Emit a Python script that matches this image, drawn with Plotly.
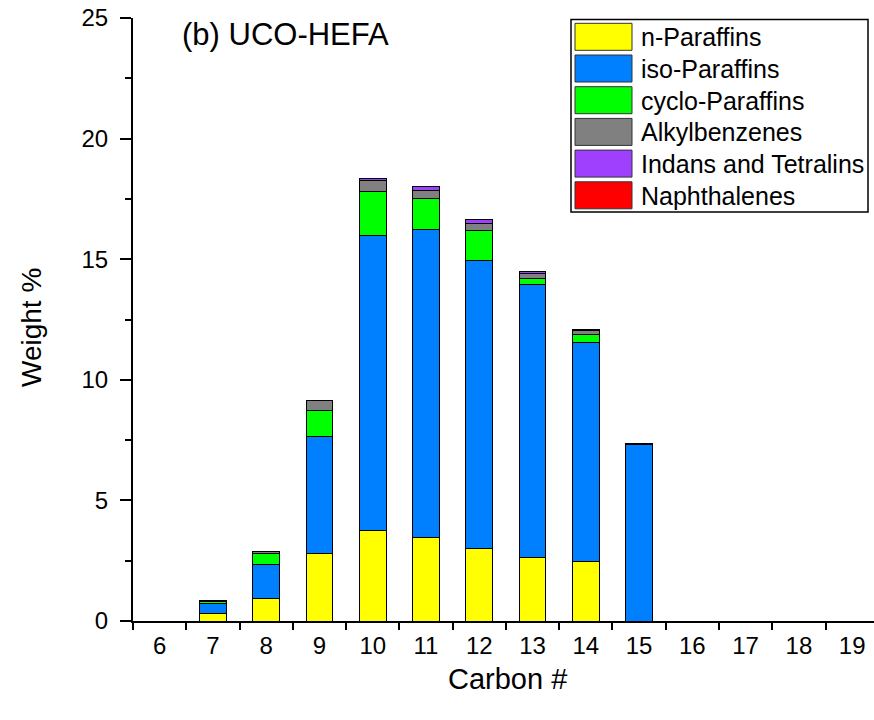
import plotly.graph_objects as go

# Carbon-number distribution of hydrocarbon classes (weight %)
carbon = [6, 7, 8, 9, 10, 11, 12, 13, 14, 15, 16, 17, 18, 19]
n_paraffins = [0.00, 0.30, 0.94, 2.81, 3.76, 3.47, 3.00, 2.62, 2.47, 0.00, 0.00, 0.00, 0.00, 0.00]
iso_paraffins = [0.00, 0.43, 1.41, 4.83, 12.23, 12.76, 11.93, 11.34, 9.08, 7.30, 0.00, 0.00, 0.00, 0.00]
cyclo_paraffins = [0.00, 0.06, 0.46, 1.08, 1.83, 1.27, 1.25, 0.25, 0.32, 0.02, 0.00, 0.00, 0.00, 0.00]
alkylbenzenes = [0.00, 0.07, 0.09, 0.44, 0.44, 0.34, 0.28, 0.18, 0.17, 0.03, 0.00, 0.00, 0.00, 0.00]
indans_tetralins = [0.00, 0.00, 0.00, 0.00, 0.08, 0.19, 0.17, 0.12, 0.04, 0.00, 0.00, 0.00, 0.00, 0.00]
naphthalenes = [0.00] * 14

series_names = ["n-Paraffins", "iso-Paraffins", "cyclo-Paraffins", "Alkylbenzenes",
                "Indans and Tetralins", "Naphthalenes"]
series_values = [n_paraffins, iso_paraffins, cyclo_paraffins, alkylbenzenes,
                 indans_tetralins, naphthalenes]
series_colors = ["#FFFF00", "#0080FF", "#00FF00", "#808080", "#A040FF", "#FF0000"]

FONT = "Liberation Sans, Arial, sans-serif"
W, H = 874, 720
L, R, T, B = 133, 0, 18, 99
PW, PH = W - L - R, H - T - B

fig = go.Figure()
for name, vals, col in zip(series_names, series_values, series_colors):
    fig.add_trace(go.Bar(
        x=carbon, y=vals, name=name, width=0.5,
        marker=dict(color=col, line=dict(color="black", width=1)),
        showlegend=False,
    ))


def px_x(p):
    return (p - L) / PW


def px_y(p):
    return (H - B - p) / PH


# hand-drawn legend with large swatches
shapes = [dict(type="rect", xref="paper", yref="paper",
               x0=px_x(571), x1=px_x(868), y0=px_y(212), y1=px_y(19.5),
               line=dict(color="black", width=1.5), fillcolor="white", layer="above")]
annotations = []
for i, (name, col) in enumerate(zip(series_names, series_colors)):
    top = 23.3 + i * 31.7
    shapes.append(dict(type="rect", xref="paper", yref="paper",
                       x0=px_x(575), x1=px_x(632), y0=px_y(top + 27), y1=px_y(top),
                       line=dict(color="#333333", width=1), fillcolor=col, layer="above"))
    annotations.append(dict(xref="paper", yref="paper", x=px_x(639), y=px_y(top + 14),
                            xanchor="left", yanchor="middle", text=name, showarrow=False,
                            font=dict(family=FONT, size=25, color="black")))

annotations += [
    dict(xref="paper", yref="paper", x=px_x(180), y=px_y(35), xanchor="left",
         yanchor="middle", text="(b) UCO-HEFA", showarrow=False,
         font=dict(family=FONT, size=31, color="black")),
    dict(xref="paper", yref="paper", x=px_x(507), y=px_y(679), xanchor="center",
         yanchor="middle", text="Carbon #", showarrow=False,
         font=dict(family=FONT, size=29, color="black")),
    dict(xref="paper", yref="paper", x=px_x(31), y=px_y(328), xanchor="center",
         yanchor="middle", text="Weight %", showarrow=False, textangle=-90,
         font=dict(family=FONT, size=28, color="black")),
]

fig.update_layout(
    width=W, height=H,
    margin=dict(l=L, r=R, t=T, b=B, pad=0),
    paper_bgcolor="white", plot_bgcolor="white",
    barmode="stack",
    shapes=shapes, annotations=annotations,
    font=dict(family=FONT, color="black"),
    xaxis=dict(
        range=[5.5, 5.5 + PW / 53.27], tickmode="array", tickvals=carbon,
        ticktext=[str(c) for c in carbon],
        ticks="outside", ticklen=2, tickcolor="rgba(0,0,0,0)",
        showline=True, linecolor="black", linewidth=2, showgrid=False, zeroline=False,
        tickfont=dict(family=FONT, size=24, color="black"),
        minor=dict(ticks="outside", ticklen=7, tickwidth=2, tickcolor="black",
                   tick0=5.5, dtick=1, showgrid=False),
    ),
    yaxis=dict(
        range=[0, 25], tick0=0, dtick=5,
        ticks="outside", ticklen=11, tickwidth=2, tickcolor="black",
        showline=True, linecolor="black", linewidth=2, showgrid=False, zeroline=False,
        tickfont=dict(family=FONT, size=24, color="black"),
        ticklabelstandoff=7,
        minor=dict(ticks="outside", ticklen=6, tickwidth=2, tickcolor="black",
                   tick0=0, dtick=2.5, showgrid=False),
    ),
)

fig.write_html("out.html")
